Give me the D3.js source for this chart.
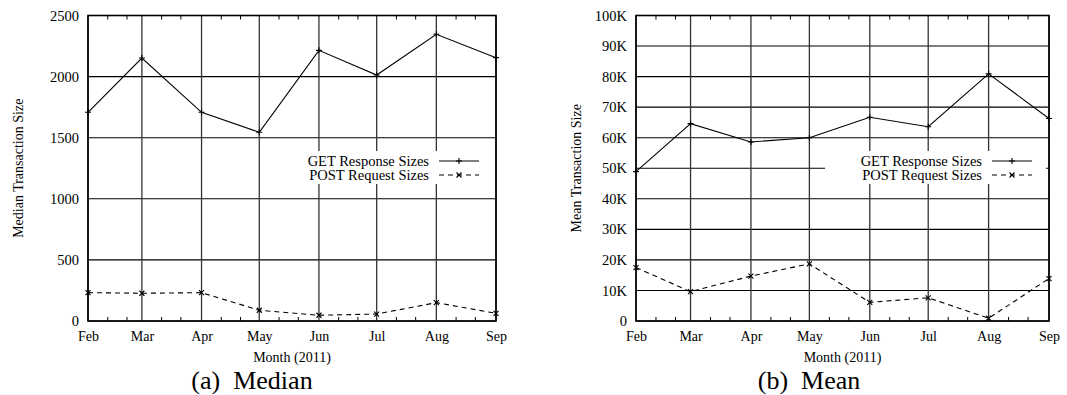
<!DOCTYPE html>
<html>
<head>
<meta charset="utf-8">
<script src="https://cdn.jsdelivr.net/npm/d3@7"></script>
<style>
  body { margin: 0; background: #fff; }
  svg { display: block; }
  text { font-family: "Liberation Serif", "DejaVu Serif", serif; fill: #000; }
  .caption { white-space: pre; }
</style>
</head>
<body>
<svg id="chart" width="1067" height="395"></svg>
<script>
// month starts (x axis), one value per month
var months = ["2011-02-01", "2011-03-01", "2011-04-01", "2011-05-01",
              "2011-06-01", "2011-07-01", "2011-08-01", "2011-09-01"];
var medianGet  = [1708, 2152, 1708, 1544, 2215, 2013, 2346, 2155];
var medianPost = [232, 227, 232, 88, 47, 57, 150, 63];
var meanGet    = [48900, 64600, 58600, 60000, 66700, 63600, 80900, 66300];
var meanPost   = [17500, 9600, 14700, 18700, 6100, 7600, 900, 13900];
var medianTicks = [0, 500, 1000, 1500, 2000, 2500];
var meanTicks   = [0, 10000, 20000, 30000, 40000, 50000, 60000, 70000, 80000, 90000, 100000];
var seriesNames = ["GET Response Sizes", "POST Request Sizes"];

var parse = d3.timeParse("%Y-%m-%d");
var dates = months.map(parse);

var svg = d3.select("#chart");

function drawPanel(p) {
    var x = d3.scaleTime().domain([dates[0], dates[dates.length - 1]]).range([p.left, p.right]);
    var y = d3.scaleLinear().domain([0, p.ticks[p.ticks.length - 1]]).range([p.bottom, p.top]);
    var g = svg.append("g");

    // grid
    g.selectAll(".hgrid").data(p.ticks).enter().append("line")
        .attr("x1", p.left).attr("x2", p.right)
        .attr("y1", function(d) { return y(d); }).attr("y2", function(d) { return y(d); })
        .attr("stroke", "#000").attr("stroke-width", 1.1);
    g.selectAll(".vgrid").data(dates).enter().append("line")
        .attr("y1", p.top).attr("y2", p.bottom)
        .attr("x1", function(d) { return x(d); }).attr("x2", function(d) { return x(d); })
        .attr("stroke", "#333").attr("stroke-width", 1.3);

    // minor ticks every 10 days, bottom and top
    var minor = [];
    dates.slice(0, -1).forEach(function(m) {
        minor.push(d3.timeDay.offset(m, 10), d3.timeDay.offset(m, 20));
    });
    g.append("g").call(d3.axisTop(x).tickValues(minor).tickSize(4).tickFormat(""))
        .attr("transform", "translate(0," + p.bottom + ")")
        .call(function(a) { a.select(".domain").remove(); });
    g.append("g").call(d3.axisBottom(x).tickValues(minor).tickSize(4).tickFormat(""))
        .attr("transform", "translate(0," + p.top + ")")
        .call(function(a) { a.select(".domain").remove(); });

    // legend box (white, hides grid)
    var lx = p.right - 17;   // sample end
    var ly = 161;
    g.append("rect").attr("x", lx - 40 - 10 - 157).attr("y", 151)
        .attr("width", 157 + 10 + 40 + 14).attr("height", 33).attr("fill", "#fff");

    // frame
    g.append("rect").attr("x", p.left).attr("y", p.top)
        .attr("width", p.right - p.left).attr("height", p.bottom - p.top)
        .attr("fill", "none").attr("stroke", "#000").attr("stroke-width", 1.6);

    // axes labels
    var xa = g.append("g").attr("transform", "translate(0," + p.bottom + ")")
        .call(d3.axisBottom(x).tickValues(dates).tickSize(0).tickPadding(10)
              .tickFormat(d3.timeFormat("%b")));
    xa.select(".domain").remove();
    xa.selectAll("text").style("font-size", "14px").style("font-family", "Liberation Serif");

    var ya = g.append("g").attr("transform", "translate(" + p.left + ",0)")
        .call(d3.axisLeft(y).tickValues(p.ticks).tickSize(0).tickPadding(9).tickFormat(p.fmt));
    ya.select(".domain").remove();
    ya.selectAll("text").style("font-size", "14.5px").style("font-family", "Liberation Serif");

    g.append("text").attr("x", (p.left + p.right) / 2).attr("y", 362)
        .attr("text-anchor", "middle").style("font-size", "14px").text("Month (2011)");
    g.append("text")
        .attr("transform", "translate(" + (p.left - p.ylabOff) + "," + ((p.top + p.bottom) / 2) + ") rotate(-90)")
        .attr("text-anchor", "middle").attr("dy", "0.35em").style("font-size", "14px").text(p.ylabel);
    g.append("text").attr("class", "caption").attr("x", p.capX).attr("y", 389)
        .attr("text-anchor", "middle").style("font-size", "26px").text(p.caption);

    // series
    var styles = [{dash: null, mark: "plus"}, {dash: "5,4", mark: "cross"}];
    [p.get, p.post].forEach(function(vals, k) {
        var pts = vals.map(function(v, i) { return [x(dates[i]), y(v)]; });
        g.append("path").attr("d", d3.line()(pts)).attr("fill", "none")
            .attr("stroke", "#000").attr("stroke-width", 1.1)
            .attr("stroke-dasharray", styles[k].dash);
        pts.forEach(function(pt) { marker(g, pt[0], pt[1], styles[k].mark); });

        // legend entry
        var yy = ly + k * 14;
        g.append("text").attr("x", lx - 50).attr("y", yy).attr("dy", "0.35em")
            .attr("text-anchor", "end").style("font-size", "14.5px").text(seriesNames[k]);
        g.append("line").attr("x1", lx - 40).attr("x2", lx).attr("y1", yy).attr("y2", yy)
            .attr("stroke", "#000").attr("stroke-width", 1.1)
            .attr("stroke-dasharray", styles[k].dash);
        marker(g, lx - 20, yy, styles[k].mark);
    });
}

function marker(g, cx, cy, type) {
    var s = 3;
    if (type == "plus") {
        g.append("path").attr("d", "M" + (cx - s) + "," + cy + "H" + (cx + s) + "M" + cx + "," + (cy - s) + "V" + (cy + s))
            .attr("stroke", "#000").attr("stroke-width", 1.1);
    } else {
        s = 2.5;
        g.append("path").attr("d", "M" + (cx - s) + "," + (cy - s) + "L" + (cx + s) + "," + (cy + s) +
                              "M" + (cx - s) + "," + (cy + s) + "L" + (cx + s) + "," + (cy - s))
            .attr("stroke", "#000").attr("stroke-width", 1.1);
    }
}

drawPanel({left: 88, right: 496, top: 15.5, bottom: 321, ticks: medianTicks,
           fmt: d3.format("d"), get: medianGet, post: medianPost,
           ylabel: "Median Transaction Size", ylabOff: 69.5, caption: "(a)  Median", capX: 252});
drawPanel({left: 636, right: 1049, top: 15.5, bottom: 321, ticks: meanTicks,
           fmt: function(d) { return d == 0 ? "0" : (d / 1000) + "K"; }, get: meanGet, post: meanPost,
           ylabel: "Mean Transaction Size", ylabOff: 59.5, caption: "(b)  Mean", capX: 809});
</script>
</body>
</html>
